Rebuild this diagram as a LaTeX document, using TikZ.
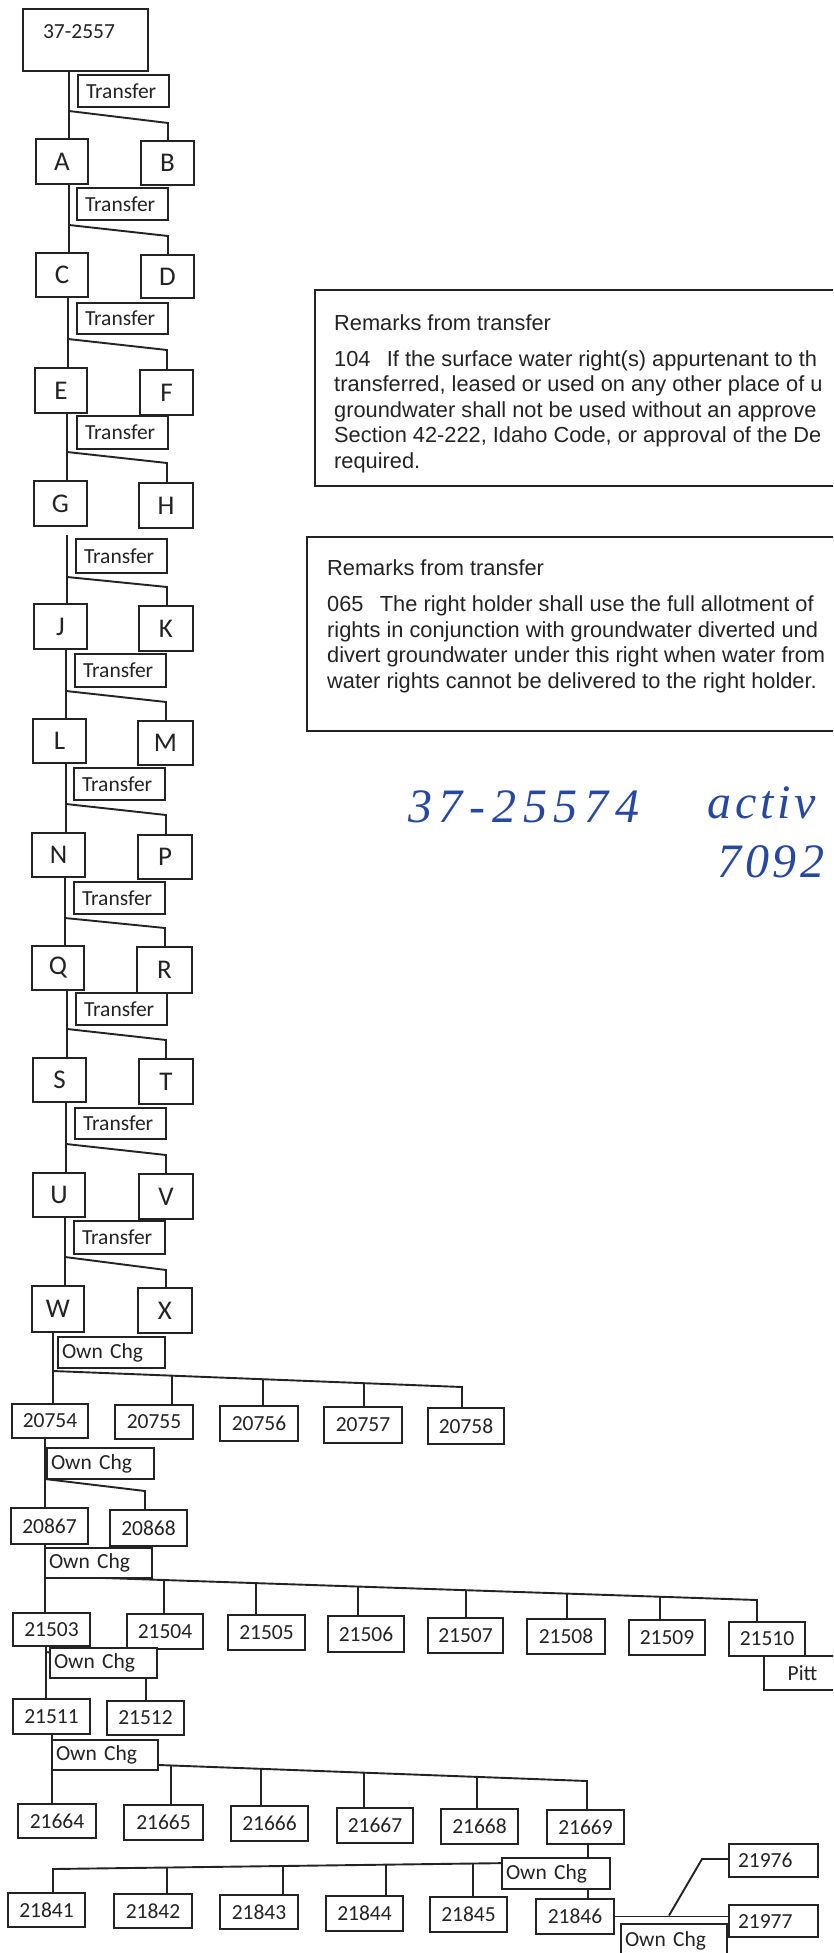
\documentclass[tikz,border=0pt]{standalone}
\usepackage{fontspec}
\usetikzlibrary{calc}
\newfontfamily\calfont{Carlito}
\newfontfamily\arialfont{Liberation Sans}
\newfontfamily\handfont{Liberation Serif}[LetterSpace=14]
\newfontfamily\handfontb{Liberation Serif}[LetterSpace=8]
\definecolor{ink}{RGB}{35,35,35}
\definecolor{pen}{RGB}{38,72,160}
\pgfdeclarelayer{bg}
\pgfsetlayers{bg,main}
\tikzset{
  box/.style={draw=ink, line width=2pt, fill=white, anchor=north west, inner sep=0pt, text=ink, font=\calfont\fontsize{21.5}{24}\selectfont},
  letterbox/.style={box, font=\calfont\fontsize{27}{30}\selectfont},
  conn/.style={draw=ink, line width=1.9pt},
  remarkbox/.style={draw=ink, line width=2pt, anchor=north west, inner sep=0pt},
  remarktext/.style={anchor=base west, inner sep=0pt, text=ink, font=\arialfont\fontsize{21.8}{26}\selectfont},
  handtext/.style={anchor=base west, inner sep=0pt, text=pen, font=\handfont\itshape\fontsize{48}{54}\selectfont},
  handtextb/.style={handtext, font=\handfontb\itshape\fontsize{48}{54}\selectfont},
}
\newcommand\mkbox[6]{\node[#1, minimum width=#4pt, minimum height=#5pt] (#2) at (#3) {#6};}
\newcommand\mktag[6]{\node[box, align=left, minimum height=#4pt, inner xsep=#5pt, text width=#3pt] (#1) at (#2) {#6};}
\begin{document}
\begin{tikzpicture}[x=1pt,y=-1pt]
\begin{pgfonlayer}{bg}
\fill[white] (0,0) rectangle (833,1953);
\end{pgfonlayer}
\useasboundingbox (0,0) rectangle (833,1953);
\clip (0,0) rectangle (833,1953);

% ---------- root ----------
\node[box, align=left, text width=85pt, inner xsep=20pt, inner ysep=10pt, text height=20pt, text depth=22pt] (root) at (22,8) {37-2557};

% ---------- letter boxes ----------
\mkbox{letterbox}{A}{35,138}{52}{45}{A}
\mkbox{letterbox}{B}{140,140}{53}{44}{B}
\mkbox{letterbox}{C}{35,252}{52}{44}{C}
\mkbox{letterbox}{D}{140,254}{53}{43}{D}
\mkbox{letterbox}{E}{34,367}{52}{45}{E}
\mkbox{letterbox}{F}{139,369}{53}{45}{F}
\mkbox{letterbox}{G}{33,480}{53}{45}{G}
\mkbox{letterbox}{H}{138,482}{54}{45}{H}
\mkbox{letterbox}{J}{33,603}{53}{45}{J}
\mkbox{letterbox}{K}{138,605}{54}{45}{K}
\mkbox{letterbox}{L}{32,718}{53}{44}{L}
\mkbox{letterbox}{M}{137,720}{55}{44}{M}
\mkbox{letterbox}{N}{31,832}{53}{44}{N}
\mkbox{letterbox}{P}{137,834}{54}{44}{P}
\mkbox{letterbox}{Q}{31,945}{52}{44}{Q}
\mkbox{letterbox}{R}{136,946}{55}{46}{R}
\mkbox{letterbox}{S}{32,1057}{53}{44}{S}
\mkbox{letterbox}{T}{138,1058}{54}{45}{T}
\mkbox{letterbox}{U}{32,1172}{52}{44}{U}
\mkbox{letterbox}{V}{138,1173}{54}{45}{V}
\mkbox{letterbox}{W}{31,1285}{52}{46}{W}
\mkbox{letterbox}{X}{137,1287}{54}{45}{X}

% ---------- transfer tags ----------
\mktag{t1}{77,74}{75}{32}{8}{Transfer}
\mktag{t2}{76,187}{75}{32}{8}{Transfer}
\mktag{t3}{76,302}{75}{31}{8}{Transfer}
\mktag{t4}{76,415}{75}{33}{8}{Transfer}
\mktag{t5}{75,538}{75}{34}{8}{Transfer}
\mktag{t6}{74,653}{75}{33}{8}{Transfer}
\mktag{t7}{73,767}{75}{32}{8}{Transfer}
\mktag{t8}{73,881}{75}{32}{8}{Transfer}
\mktag{t9}{75,992}{75}{32}{8}{Transfer}
\mktag{t10}{74,1107}{75}{31}{8}{Transfer}
\mktag{t11}{73,1220}{75}{33}{8}{Transfer}

% ---------- ownership changes ----------
\mktag{oc1}{57,1336}{99}{31}{4}{Own Chg}
\mkbox{box}{n20754}{11,1403}{76}{34}{20754}
\mkbox{box}{n20755}{114,1404}{78}{34}{20755}
\mkbox{box}{n20756}{219,1405}{78}{35}{20756}
\mkbox{box}{n20757}{323,1406}{78}{36}{20757}
\mkbox{box}{n20758}{427,1407}{76}{36}{20758}

\mktag{oc2}{46,1447}{99}{31}{4}{Own Chg}
\mkbox{box}{n20867}{10,1507}{77}{36}{20867}
\mkbox{box}{n20868}{109,1509}{77}{36}{20868}

\mktag{oc3}{44,1547}{99}{30}{4}{Own Chg}
\mkbox{box}{n21503}{12,1612}{77}{33}{21503}
\mkbox{box}{n21504}{126,1613}{76}{35}{21504}
\mkbox{box}{n21505}{227,1614}{77}{35}{21505}
\mkbox{box}{n21506}{327,1615}{76}{36}{21506}
\mkbox{box}{n21507}{427,1617}{75}{35}{21507}
\mkbox{box}{n21508}{526,1618}{78}{35}{21508}
\mkbox{box}{n21509}{628,1619}{76}{35}{21509}
\mkbox{box}{n21510}{728,1621}{76}{34}{21510}
\mkbox{box}{pitt}{763,1655}{77}{34}{Pitt}

\mktag{oc4}{49,1647}{99}{30}{4}{Own Chg}
\mkbox{box}{n21511}{12,1698}{77}{35}{21511}
\mkbox{box}{n21512}{106,1700}{77}{34}{21512}

\mktag{oc5}{51,1739}{98}{30}{4}{Own Chg}
\mkbox{box}{n21664}{17,1803}{78}{34}{21664}
\mkbox{box}{n21665}{123,1804}{79}{35}{21665}
\mkbox{box}{n21666}{230,1805}{77}{35}{21666}
\mkbox{box}{n21667}{336,1807}{76}{35}{21667}
\mkbox{box}{n21668}{440,1808}{77}{35}{21668}
\mkbox{box}{n21669}{546,1809}{77}{34}{21669}

\mktag{oc6}{501,1857}{100}{31}{4}{Own Chg}
\mkbox{box}{n21841}{7,1892}{77}{34}{21841}
\mkbox{box}{n21842}{113,1893}{78}{34}{21842}
\mkbox{box}{n21843}{219,1894}{78}{34}{21843}
\mkbox{box}{n21844}{325,1895}{77}{35}{21844}
\mkbox{box}{n21845}{429,1896}{77}{35}{21845}
\mkbox{box}{n21846}{535,1898}{78}{35}{21846}

\mktag{n21976}{728,1843}{71}{33}{9}{21976}
\mktag{n21977}{728,1904}{71}{32}{9}{21977}
\mktag{oc7}{620,1923}{98}{34}{4}{Own Chg}

% ---------- remark boxes ----------
\node[remarkbox, minimum width=540pt, minimum height=196pt] (rem1) at (314,289) {};
\node[remarktext] (rem1h) at (334,330) {Remarks from transfer};
\node[remarktext] (rem1a) at (334,366) {104\hspace{0.75em}If the surface water right(s) appurtenant to th};
\node[remarktext] (rem1b) at (334,391.5) {transferred, leased or used on any other place of u};
\node[remarktext] (rem1c) at (334,417) {groundwater shall not be used without an approve};
\node[remarktext] (rem1d) at (334,442.5) {Section 42-222, Idaho Code, or approval of the De};
\node[remarktext] (rem1e) at (334,468) {required.};

\node[remarkbox, minimum width=550pt, minimum height=194pt] (rem2) at (306,536) {};
\node[remarktext] (rem2h) at (327,575) {Remarks from transfer};
\node[remarktext] (rem2a) at (327,611) {065\hspace{0.75em}The right holder shall use the full allotment of};
\node[remarktext] (rem2b) at (327,637) {rights in conjunction with groundwater diverted und};
\node[remarktext] (rem2c) at (327,662) {divert groundwater under this right when water from};
\node[remarktext] (rem2d) at (327,688) {water rights cannot be delivered to the right holder.};

% ---------- handwriting ----------
\node[handtext] (hand1) at (408,822) {37-25574};
\node[handtextb] (hand2) at (707,818) {activ};
\node[handtextb] (hand3) at (717,877) {7092};

% ---------- connector anchor points ----------
\coordinate (s1) at (69,111);   \coordinate (e1) at (168,123);
\coordinate (s2) at (69,225);   \coordinate (e2) at (168,236);
\coordinate (s3) at (68,339);   \coordinate (e3) at (167,350);
\coordinate (s4) at (67,452);   \coordinate (e4) at (167,463);
\coordinate (s5) at (67,577);   \coordinate (e5) at (167,587);
\coordinate (s5top) at (67,535);
\coordinate (s6) at (66,691);   \coordinate (e6) at (166,702);
\coordinate (s7) at (66,804);   \coordinate (e7) at (166,815);
\coordinate (s8) at (65,918);   \coordinate (e8) at (165,928);
\coordinate (s9) at (67,1029);  \coordinate (e9) at (166,1040);
\coordinate (s10) at (66,1144); \coordinate (e10) at (166,1155);
\coordinate (s11) at (65,1257); \coordinate (e11) at (166,1270);
\coordinate (f1s) at (53,1371); \coordinate (f1e) at (462,1387);
\coordinate (s12) at (45,1479); \coordinate (e12) at (145,1491);
\coordinate (f3s) at (45,1576); \coordinate (f3e) at (757,1600);
\coordinate (s14) at (46,1652); \coordinate (e14) at (146,1665);
\coordinate (f5s) at (52,1761); \coordinate (f5e) at (587,1781);
\coordinate (f6s) at (588,1862); \coordinate (f6e) at (53,1869);
\coordinate (c7a) at (669,1915.5); \coordinate (c7b) at (702,1859);

\begin{pgfonlayer}{bg}
% transfers
\draw[conn] (root.south -| s1) -- (A.north -| s1);
\draw[conn] (s1) -- (e1) -- (e1 |- B.north);
\draw[conn] (A.south -| s2) -- (C.north -| s2);
\draw[conn] (s2) -- (e2) -- (e2 |- D.north);
\draw[conn] (C.south -| s3) -- (E.north -| s3);
\draw[conn] (s3) -- (e3) -- (e3 |- F.north);
\draw[conn] (E.south -| s4) -- (G.north -| s4);
\draw[conn] (s4) -- (e4) -- (e4 |- H.north);
\draw[conn] (s5top) -- (J.north -| s5);
\draw[conn] (s5) -- (e5) -- (e5 |- K.north);
\draw[conn] (J.south -| s6) -- (L.north -| s6);
\draw[conn] (s6) -- (e6) -- (e6 |- M.north);
\draw[conn] (L.south -| s7) -- (N.north -| s7);
\draw[conn] (s7) -- (e7) -- (e7 |- P.north);
\draw[conn] (N.south -| s8) -- (Q.north -| s8);
\draw[conn] (s8) -- (e8) -- (e8 |- R.north);
\draw[conn] (Q.south -| s9) -- (S.north -| s9);
\draw[conn] (s9) -- (e9) -- (e9 |- T.north);
\draw[conn] (S.south -| s10) -- (U.north -| s10);
\draw[conn] (s10) -- (e10) -- (e10 |- V.north);
\draw[conn] (U.south -| s11) -- (W.north -| s11);
\draw[conn] (s11) -- (e11) -- (e11 |- X.north);
% ownership fan 1
\draw[conn] (W.south -| f1s) -- (n20754.north -| f1s);
\draw[conn] (f1s) -- (f1e) -- (f1e |- n20758.north);
\foreach \t/\n in {0.291/n20755,0.513/n20756,0.760/n20757}{
  \path ($(f1s)!\t!(f1e)$) coordinate (q);
  \draw[conn] (q) -- (q |- \n.north);
}
% level 2
\draw[conn] (n20754.south -| s12) -- (n20867.north -| s12);
\draw[conn] (s12) -- (e12) -- (e12 |- n20868.north);
% fan 3
\draw[conn] (n20867.south -| f3s) -- (n21503.north -| f3s);
\draw[conn] (f3s) -- (f3e) -- (f3e |- n21510.north);
\foreach \t/\n in {0.167/n21504,0.296/n21505,0.440/n21506,0.591/n21507,0.733/n21508,0.864/n21509}{
  \path ($(f3s)!\t!(f3e)$) coordinate (q);
  \draw[conn] (q) -- (q |- \n.north);
}
% level 4
\draw[conn] (n21503.south -| s14) -- (n21511.north -| s14);
\draw[conn] (s14) -- (e14) -- (e14 |- n21512.north);
% fan 5
\draw[conn] (n21511.south -| f5s) -- (n21664.north -| f5s);
\draw[conn] (f5s) -- (f5e) -- (f5e |- n21669.north);
\foreach \t/\n in {0.222/n21665,0.391/n21666,0.583/n21667,0.794/n21668}{
  \path ($(f5s)!\t!(f5e)$) coordinate (q);
  \draw[conn] (q) -- (q |- \n.north);
}
% fan 6
\draw[conn] (n21669.south -| f6s) -- (n21846.north -| f6s);
\draw[conn] (f6s) -- (f6e) -- (f6e |- n21841.north);
\foreach \t/\n in {0.215/n21845,0.378/n21844,0.570/n21843,0.787/n21842}{
  \path ($(f6s)!\t!(f6e)$) coordinate (q);
  \draw[conn] (q) -- (q |- \n.north);
}
% last split
\draw[conn] (n21846.east) -- (n21846.east -| n21977.west);
\draw[conn] (c7a) -- (c7b) -- (c7b -| n21976.west);
\end{pgfonlayer}
\end{tikzpicture}
\end{document}
